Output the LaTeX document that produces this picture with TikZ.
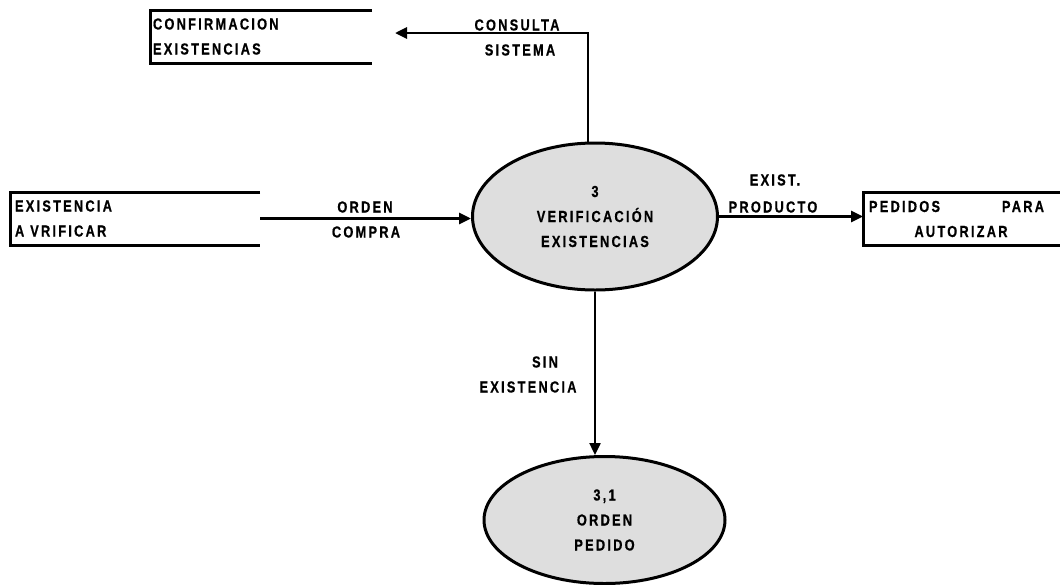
\documentclass[tikz,border=0pt]{standalone}
\usepackage{fontspec}
\usetikzlibrary{shapes.geometric,arrows.meta,calc}
% condensed, letter-spaced heavy sans for all labels
\newfontfamily\dfdfamily{Liberation Sans Bold}[FakeStretch=0.8,LetterSpace=14,FakeBold=0.6]
\newcommand\dfdfont{\dfdfamily\fontsize{16}{25}\selectfont}
\newcommand\wsp{\hspace{6pt}}
\definecolor{procgray}{RGB}{222,222,222}
\begin{document}
\begin{tikzpicture}[x=1pt,y=-1pt,
  store/.style={inner ysep=0pt, outer sep=0pt, minimum height=53pt, align=left, font=\dfdfont},
  storeline/.style={line width=3pt},
  proc/.style={ellipse, draw, line width=3pt, fill=procgray, inner sep=0pt, align=center, font=\dfdfont},
  flow/.style={line width=2.8pt, -{Triangle[length=12pt,width=11pt]}},
  flowlbl/.style={inner sep=0pt, anchor=base, font=\dfdfont}]
\useasboundingbox (0,0) rectangle (1060,584);

% data stores (open on the right)
\node[store, minimum width=222pt, inner xsep=3pt, text width=216pt] (conf) at (261,36.5)
  {CONFIRMACION\\EXISTENCIAS};
\node[store, minimum width=250pt, inner xsep=5pt, text width=240pt] (exv) at (135,218.5)
  {EXISTENCIA\\A\wsp VRIFICAR};
\node[store, minimum width=199pt, inner xsep=5pt, text width=187pt] (ped) at (962.5,219)
  {\hbox to 175pt{PEDIDOS\hfill PARA}\\\makebox[184pt]{AUTORIZAR}};
\foreach \s in {conf,exv,ped}
  \draw[storeline] (\s.north east) -- (\s.north west) -- (\s.south west) -- (\s.south east);

% processes
\node[proc, minimum width=245pt, minimum height=147pt] (p3) at (595,216.5)
  {3\\VERIFICACIÓN\\EXISTENCIAS};
\node[proc, minimum width=241pt, minimum height=127pt] (p31) at (604.5,520)
  {3,1\\ORDEN\\PEDIDO};

% data flows
\coordinate (ct) at (395,33);
\draw[flow] (p3.north) ++(-7,0) |- (ct);
\draw[flow] (exv.east) -- (exv.east -| p3.west);
\draw[flow] (p3.east) -- (p3.east -| ped.west);
\draw[flow, line width=2.4pt] (p3.south) -- (p3.south |- p31.north);

% flow labels
\node[flowlbl] (l1a) at (517,30.5) {CONSULTA};
\node[flowlbl] (l1b) at (520,55.5) {SISTEMA};
\node[flowlbl] (l2a) at (365,212.5) {ORDEN};
\node[flowlbl] (l2b) at (366,237.5) {COMPRA};
\node[flowlbl] (l3a) at (775,185.5) {EXIST.};
\node[flowlbl] (l3b) at (773,212.5) {PRODUCTO};
\node[flowlbl] (l4a) at (545,367.5) {SIN};
\node[flowlbl] (l4b) at (528,392.5) {EXISTENCIA};
\end{tikzpicture}
\end{document}
